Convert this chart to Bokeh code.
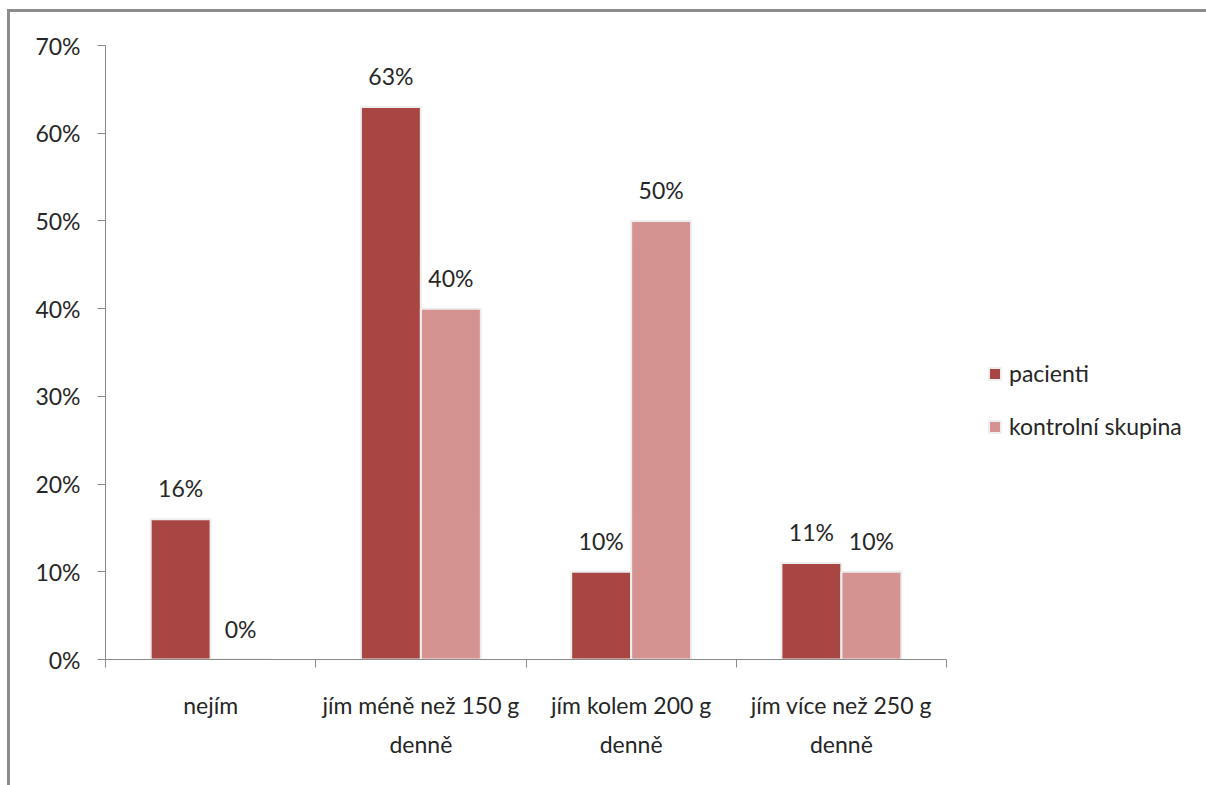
from bokeh.plotting import figure
from bokeh.models import (FixedTicker, Legend, LegendItem, LabelSet,
                          ColumnDataSource, Range1d)
from bokeh.core.properties import value
from bokeh.embed import file_html
from bokeh.resources import INLINE

categories = ["nejím", "jím méně než 150 g\ndenně", "jím kolem 200 g\ndenně",
              "jím více než 250 g\ndenně"]
series_names = ["pacienti", "kontrolní skupina"]
pacienti = [16, 63, 10, 11]
kontrolni = [0, 40, 50, 10]
y_ticks = [0, 10, 20, 30, 40, 50, 60, 70]
y_tick_labels = ["0%", "10%", "20%", "30%", "40%", "50%", "60%", "70%"]

FONT = "Lato"
C_PAC = "#A84644"
C_KON = "#D49391"
AXIS_C = "#8a8a8a"
TEXT_C = "#262626"

W, H = 1206, 785
n = len(categories)
frame_left, axis_right = 105, 946
x_end = n * (W - frame_left) / (axis_right - frame_left)

p = figure(width=W, height=H, output_backend="svg", toolbar_location=None,
           x_range=Range1d(0, x_end), y_range=Range1d(0, 70),
           min_border_left=frame_left, min_border_right=0,
           min_border_top=45, min_border_bottom=H - 659)
p.border_fill_color = None
p.background_fill_color = "white"
p.outline_line_color = None
p.grid.visible = False
p.styles = {
    "background-color": "white",
    "background-image": "linear-gradient(#8c8c8c,#8c8c8c), linear-gradient(#8c8c8c,#8c8c8c)",
    "background-size": "3px 100%, 100% 3px",
    "background-position": "7px 9px, 7px 9px",
    "background-repeat": "no-repeat",
}

centers = [i + 0.5 for i in range(n)]
off = 0.1427
bw = 0.285
src_p = ColumnDataSource(dict(x=[c - off for c in centers], top=pacienti,
                              lab=[f"{v}%" for v in pacienti]))
src_k = ColumnDataSource(dict(x=[c + off for c in centers], top=kontrolni,
                              lab=[f"{v}%" for v in kontrolni]))

r1 = p.vbar(x="x", top="top", width=bw, source=src_p, fill_color=C_PAC,
            line_color="#eeeeee", line_width=2)
r2 = p.vbar(x="x", top="top", width=bw, source=src_k, fill_color=C_KON,
            line_color="#eeeeee", line_width=2)

for src in (src_p, src_k):
    p.add_layout(LabelSet(x="x", y="top", text="lab", source=src, y_offset=22,
                          text_align="center", text_baseline="alphabetic",
                          text_font=value(FONT), text_font_size=value("23px"),
                          text_color=TEXT_C))

# y axis
ya = p.yaxis[0]
ya.ticker = FixedTicker(ticks=y_ticks, minor_ticks=[])
ya.major_label_overrides = {t: l for t, l in zip(y_ticks, y_tick_labels)}
ya.axis_line_color = AXIS_C
ya.major_tick_line_color = AXIS_C
ya.major_tick_out = 8
ya.major_tick_in = 0
ya.major_label_standoff = 17
ya.major_label_text_font = FONT
ya.major_label_text_font_size = "23px"
ya.major_label_text_color = TEXT_C

# x axis
xa = p.xaxis[0]
xa.bounds = (0, n)
xa.ticker = FixedTicker(ticks=centers, minor_ticks=list(range(n + 1)))
xa.major_label_overrides = {c: l for c, l in zip(centers, categories)}
xa.axis_line_color = AXIS_C
xa.major_tick_line_color = None
xa.major_tick_out = 0
xa.major_tick_in = 0
xa.minor_tick_line_color = AXIS_C
xa.minor_tick_out = 8
xa.minor_tick_in = 0
xa.major_label_standoff = 23
xa.major_label_text_font = FONT
xa.major_label_text_font_size = "23px"
xa.major_label_text_color = TEXT_C
xa.major_label_text_line_height = 1.42

legend = Legend(items=[LegendItem(label=series_names[0], renderers=[r1]),
                       LegendItem(label=series_names[1], renderers=[r2])],
                location=(882, 219), orientation="vertical",
                glyph_width=15, glyph_height=15, label_standoff=7,
                label_text_font=FONT, label_text_font_size="23px",
                label_text_color=TEXT_C, label_height=24, spacing=25,
                padding=0, margin=0, border_line_color=None,
                background_fill_alpha=0)
p.add_layout(legend, "center")

open("out.html", "w").write(file_html(p, INLINE))
